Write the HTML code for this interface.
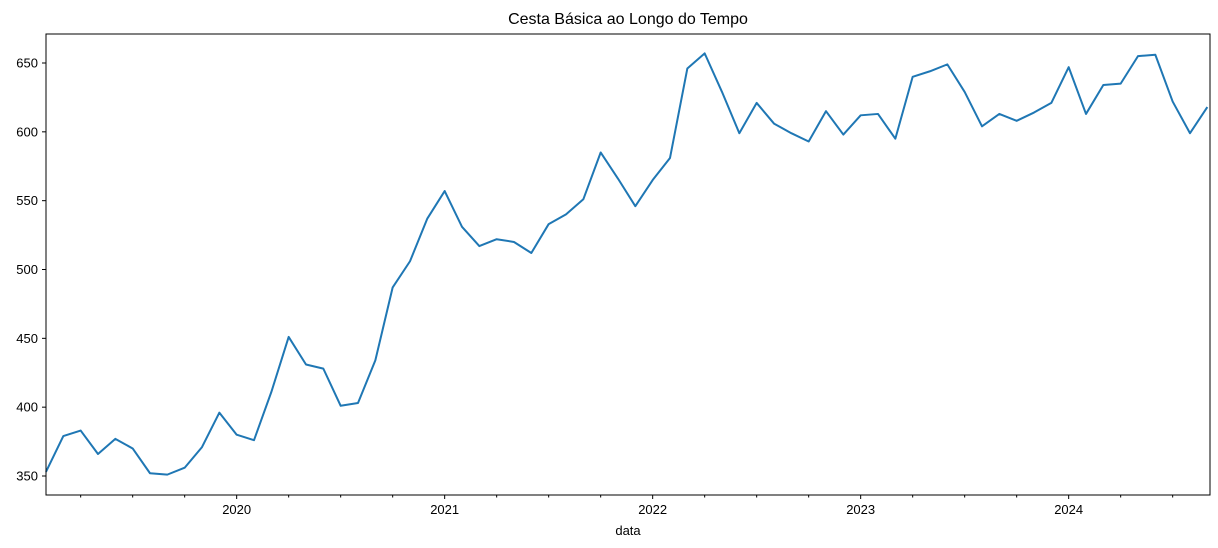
<!DOCTYPE html>
<html><head><meta charset="utf-8">
<style>
body{margin:0;background:#fff;}
svg{display:block;font-family:"Liberation Sans","DejaVu Sans",sans-serif;}
</style></head>
<body>
<svg id="chart" width="1218" height="548" xmlns="http://www.w3.org/2000/svg">
<rect width="1218" height="548" fill="#fff"/>
<text x="628" y="24" text-anchor="middle" font-size="16" fill="#000">Cesta Básica ao Longo do Tempo</text>
<g id="grid"></g>
<path id="series" fill="none" stroke="#1f77b4" stroke-width="2" stroke-linejoin="round"/>
<rect x="46" y="34" width="1164" height="461" fill="none" stroke="#000" stroke-width="1"/>
<g id="axes"></g>
<text x="628" y="535" text-anchor="middle" font-size="13" fill="#000">data</text>
</svg>
<script>
const startYear = 2019, startMonth = 2;
const values = [353,379,383,366,377,370,352,351,356,371,396,
380,376,411,451,431,428,401,403,434,487,506,537,
557,531,517,522,520,512,533,540,551,585,566,546,
565,581,646,657,629,599,621,606,599,593,615,598,
612,613,595,640,644,649,629,604,613,608,614,621,
647,613,634,635,655,656,622,599,618];
const yTicks = [350,400,450,500,550,600,650];
const xTickYears = [2020,2021,2022,2023,2024];

const NS="http://www.w3.org/2000/svg";
function x(mi){return 46 + mi*(208/12);}           // mi = months since startYear-startMonth
function y(v){return 476 - (v-350)*(413/300);}
function monthIndex(yr,m){return (yr-startYear)*12 + (m-startMonth);}

let d="";
values.forEach((v,i)=>{d+=(i?"L":"M")+x(i).toFixed(2)+","+y(v).toFixed(2);});
document.getElementById("series").setAttribute("d",d);

const axes=document.getElementById("axes");
function el(tag,attrs){const e=document.createElementNS(NS,tag);for(const k in attrs)e.setAttribute(k,attrs[k]);axes.appendChild(e);return e;}

yTicks.forEach(t=>{
  const yy=y(t);
  const tk=el("line",{x1:42,x2:46,y1:yy,y2:yy,stroke:"#000"});
  
  
  const lb=el("text",{x:38,y:yy+4.5,"text-anchor":"end","font-size":"13"});
  lb.textContent=t;
  
  
});
xTickYears.forEach(yr=>{
  const xx=x(monthIndex(yr,1));
  const tk=el("line",{x1:xx,x2:xx,y1:495,y2:499,stroke:"#000"});
  
  
  const lb=el("text",{x:xx,y:514,"text-anchor":"middle","font-size":"13"});
  lb.textContent=yr;
  
  
});
for(let i=0;i<values.length;i++){
  const m=(startMonth-1+i)%12+1;
  if(m===4||m===7||m===10){
    const xx=x(i);
    const tk=el("line",{x1:xx,x2:xx,y1:495,y2:497.5,stroke:"#000"});
    
    
  }
}
</script>
</body></html>
